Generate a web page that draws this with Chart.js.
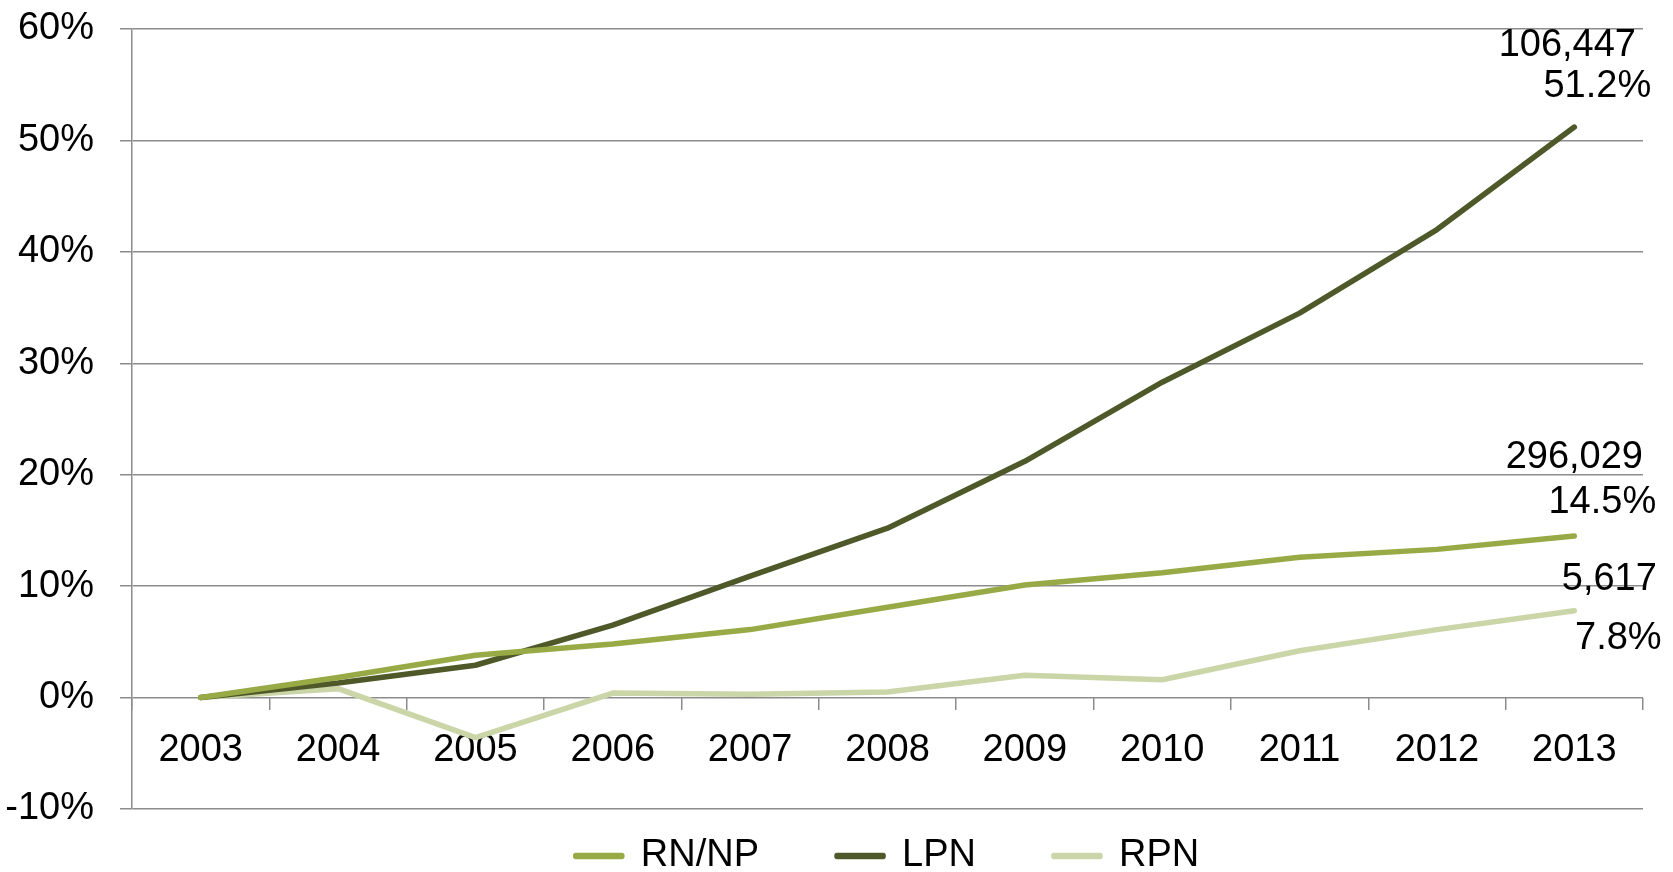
<!DOCTYPE html>
<html>
<head>
<meta charset="utf-8">
<script src="https://cdn.jsdelivr.net/npm/chart.js@4/dist/chart.umd.min.js"></script>
<style>
    html, body { margin: 0; padding: 0; background: #fff; overflow: hidden; }
    #wrap { width: 1673px; height: 885px; position: relative; }
</style>
</head>
<body>
<div id="wrap"><canvas id="grafico"></canvas></div>
<script>
// Dados (variação % desde 2003)
const anos = ['2003', '2004', '2005', '2006', '2007', '2008', '2009', '2010', '2011', '2012', '2013'];
const rnNp = [0, 1.8, 3.8, 4.8, 6.1, 8.1, 10.1, 11.2, 12.6, 13.3, 14.5];
const lpn = [0, 1.3, 2.9, 6.5, 10.9, 15.2, 21.2, 28.3, 34.5, 42.0, 51.2];
const rpn = [0, 0.8, -3.6, 0.4, 0.3, 0.5, 2.0, 1.6, 4.2, 6.1, 7.8];
const totais2013 = ['296,029', '106,447', '5,617'];
const yTicks = [-10, 0, 10, 20, 30, 40, 50, 60];

const FONTE = "'Liberation Sans', Arial, sans-serif";
const CORES = {
    rn: '#98aa45',
    lpn: '#4e5828',
    rpn: '#cad5a8',
    grid: '#8c8c8c',
};

Chart.defaults.font.family = FONTE;
Chart.defaults.font.size = 38;
Chart.defaults.color = '#000';

// Rótulos no último ponto de cada série (total + percentual)
const offsets = [
    [[0, -78], [28, -33]],    // RN/NP
    [[-7, -82], [23, -41]],   // LPN
    [[35, -31], [44, 28]],    // RPN
];
const rotulosFinais = {
    id: 'rotulosFinais',
    afterDatasetsDraw(chart) {
        const ctx = chart.ctx;
        ctx.save();
        ctx.font = `38px ${FONTE}`;
        ctx.fillStyle = '#000';
        ctx.textAlign = 'center';
        ctx.textBaseline = 'middle';
        chart.data.datasets.forEach((ds, i) => {
            const meta = chart.getDatasetMeta(i);
            const pt = meta.data[meta.data.length - 1];
            const val = ds.data[ds.data.length - 1];
            const [o1, o2] = offsets[i];
            ctx.fillText(totais2013[i], pt.x + o1[0], pt.y + o1[1]);
            ctx.fillText(val.toFixed(1) + '%', pt.x + o2[0], pt.y + o2[1]);
        });
        ctx.restore();
    },
};

function serie(label, data, cor) {
    return {
        label,
        data,
        borderColor: cor,
        backgroundColor: cor,
        borderWidth: 5.5,
        borderCapStyle: 'round',
        borderJoinStyle: 'round',
        pointRadius: 0,
        tension: 0,
        fill: false,
    };
}

new Chart(document.getElementById('grafico'), {
    type: 'line',
    data: {
        labels: anos,
        datasets: [
            serie('RN/NP', rnNp, CORES.rn),
            serie('LPN', lpn, CORES.lpn),
            serie('RPN', rpn, CORES.rpn),
        ],
    },
    options: {
        responsive: true,
        maintainAspectRatio: false,
        animation: false,
        layout: { padding: { left: 0, right: 30, top: 29, bottom: 0 } },
        plugins: {
            tooltip: { enabled: false },
            legend: {
                position: 'bottom',
                fullSize: false,
                // título vazio com padding negativo só para subir os itens
                title: { display: true, text: '', font: { size: 10 }, padding: { top: -31, bottom: -31 } },
                labels: {
                    boxWidth: 46,
                    boxHeight: 1,
                    padding: 78,
                    color: '#000',
                    font: { size: 38 },
                },
            },
        },
        scales: {
            x: {
                type: 'category',
                position: { y: 0 },
                offset: true,
                afterFit: (s) => { s.height = 0; },
                grid: {
                    offset: true,
                    drawOnChartArea: false,
                    tickLength: 12,
                    color: CORES.grid,
                    lineWidth: 1.5,
                },
                border: { display: false },
                ticks: { padding: 18, color: '#000', maxRotation: 0, autoSkip: false },
            },
            y: {
                min: -10,
                max: 60,
                afterFit: (s) => {
                    s.width = 132;
                    s.paddingTop = 0;
                    s.paddingBottom = 0;
                },
                afterBuildTicks: (s) => { s.ticks = yTicks.map(v => ({ value: v })); },
                grid: { color: CORES.grid, lineWidth: 1.5, tickLength: 12 },
                border: { color: CORES.grid, width: 1.5 },
                ticks: { padding: 26, color: '#000', callback: (v) => v + '%' },
            },
        },
    },
    plugins: [rotulosFinais],
});
</script>
</body>
</html>
